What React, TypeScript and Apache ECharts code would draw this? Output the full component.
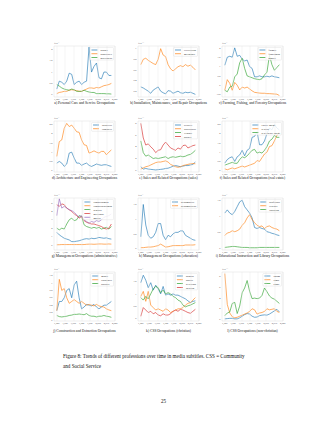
import React, { useEffect, useRef } from "react";
import * as echarts from "echarts";

const YEARS = [1950, 1953, 1956, 1959, 1962, 1965, 1968, 1971, 1974, 1977, 1980, 1983, 1986, 1989, 1992, 1995, 1998, 2001, 2004, 2007, 2010, 2013, 2016];
const X_TICKS = [1950, 1960, 1970, 1980, 1990, 2000, 2010, 2020];

// a) Personal Care and Service
const A_BARBER = [0.25, 0.6, 0.55, 0.45, 0.6, 0.95, 0.9, 0.45, 0.55, 0.6, 0.45, 0.55, 0.6, 2.1, 1.0, 1.25, 1.4, 0.75, 0.7, 1.0, 1.0, 0.85, 0.85];
const A_BABYSITTER = [0.05, 0.1, 0.12, 0.15, 0.15, 0.2, 0.22, 0.2, 0.18, 0.15, 0.15, 0.2, 0.25, 0.3, 0.3, 0.28, 0.32, 0.3, 0.35, 0.4, 0.42, 0.45, 0.5];
const A_GOVERNESS = [0.45, 0.38, 0.3, 0.25, 0.22, 0.2, 0.25, 0.22, 0.15, 0.15, 0.15, 0.2, 0.15, 0.12, 0.1, 0.1, 0.05, 0.05, 0.05, 0.05, 0.04, 0.04, 0.03];
// b) Installation, Maintenance, Repair
const B_ELECTRICIAN = [0.28, 0.26, 0.23, 0.2, 0.16, 0.22, 0.25, 0.28, 0.2, 0.17, 0.15, 0.21, 0.2, 0.16, 0.18, 0.2, 0.17, 0.16, 0.18, 0.17, 0.18, 0.16, 0.14];
const B_MECHANIC = [0.7, 0.8, 0.82, 0.78, 0.75, 0.72, 0.7, 0.8, 1.0, 0.88, 0.85, 0.7, 0.62, 0.58, 0.62, 0.66, 0.68, 0.66, 0.7, 0.67, 0.69, 0.65, 0.6];
// c) Farming, Fishing, Forestry
const C_FARMER = [1.07, 1.5, 1.55, 1.5, 2.0, 1.55, 1.6, 1.4, 1.3, 1.35, 1.0, 0.9, 0.45, 0.45, 0.5, 0.45, 0.45, 0.48, 0.45, 0.5, 0.45, 0.43, 0.4];
const C_FISHERMAN = [-0.27, 0.3, 0.1, -0.27, 0.15, 0.0, -0.25, -0.1, -0.15, -0.1, -0.2, -0.3, -0.38, -0.4, -0.42, -0.43, -0.43, -0.45, -0.45, -0.46, -0.47, -0.48, -0.55];
const C_HUNTER = [-0.27, -0.35, -0.1, -0.05, 0.45, 0.6, 1.2, 1.45, 0.9, 0.5, 0.45, 0.4, 0.35, 0.32, 0.3, 0.35, 0.55, 0.7, 1.6, 1.1, 0.8, 0.95, 1.1];
// d) Architecture and Engineering
const D_ARCHITECT = [0.41, 0.5, 0.41, 0.23, 0.36, 0.95, 1.0, 0.68, 0.41, 0.41, 0.29, 0.36, 0.41, 0.29, 0.23, 0.29, 0.36, 0.32, 0.29, 0.32, 0.32, 0.27, 0.23];
const D_ENGINEER = [0.77, 1.57, 1.66, 2.29, 2.55, 2.38, 2.46, 2.29, 2.1, 2.07, 1.66, 1.4, 1.36, 0.95, 1.0, 1.07, 1.0, 0.95, 1.04, 1.04, 0.86, 1.0, 1.12];
// e) Sales (sales)
const E_RETAILER = [0.6, 0.2, 0.3, 0.2, 0.15, 0.1, 0.05, 0.1, 0.15, 0.2, 0.3, 0.35, 0.5, 0.7, 0.8, 0.7, 0.6, 0.7, 0.8, 0.8, 0.9, 1.0, 1.4];
const E_DISTRIBUTOR = [0.2, 0.4, 0.6, 0.7, 0.9, 1.1, 1.3, 1.4, 1.4, 1.5, 1.6, 1.4, 1.0, 0.8, 0.6, 0.5, 0.6, 0.8, 0.9, 1.0, 1.1, 1.15, 1.1];
const E_VENDOR = [5.0, 3.0, 2.4, 2.6, 2.3, 2.0, 2.1, 2.0, 2.1, 2.2, 2.3, 2.0, 2.2, 2.3, 2.2, 2.3, 2.4, 2.3, 2.4, 2.6, 2.7, 3.0, 3.4];
const E_BROKER = [8.0, 5.5, 4.3, 4.5, 4.0, 3.6, 3.0, 3.4, 3.5, 4.3, 4.8, 4.3, 3.8, 3.6, 3.4, 3.8, 3.6, 4.2, 4.3, 3.8, 4.0, 4.2, 4.3];
// f) Sales (real estate)
const F_ESTATE_AGENT = [0.41, 0.6, 0.7, 0.75, 0.5, 0.75, 0.85, 1.1, 0.8, 1.1, 1.2, 1.8, 1.85, 2.1, 1.4, 1.4, 1.6, 2.0, 2.3, 2.2, 2.5, 2.3, 2.2];
const F_REALTOR = [0.1, 0.05, 0.1, 0.15, 0.1, 0.15, 0.2, 0.25, 0.2, 0.25, 0.3, 0.35, 0.4, 0.55, 0.5, 0.7, 0.9, 1.0, 1.3, 1.35, 1.6, 1.9, 2.1];
const F_REAL_ESTATE_AGENT = [0.3, 0.35, 0.4, 0.45, 0.4, 0.4, 0.6, 0.75, 0.7, 0.8, 0.95, 1.1, 1.15, 0.95, 1.0, 0.95, 1.1, 1.3, 1.6, 1.7, 1.9, 1.8, 1.8];
// g) Management (administrative)
const G_CONGRESSMAN = [1.5, 1.2, 1.0, 0.8, 0.7, 0.6, 0.4, 0.4, 0.45, 0.5, 0.6, 0.7, 0.75, 0.7, 0.8, 0.75, 0.8, 0.9, 0.85, 0.8, 0.85, 0.75, 0.7];
const G_CONGRESSWOMAN = [0.02, 0.03, 0.05, 0.05, 0.05, 0.05, 0.05, 0.05, 0.05, 0.05, 0.05, 0.05, 0.08, 0.1, 0.1, 0.08, 0.1, 0.12, 0.12, 0.1, 0.1, 0.12, 0.1];
const G_SENATOR = [2.0, 1.8, 2.0, 1.9, 2.5, 3.0, 3.2, 2.9, 3.0, 3.5, 3.4, 2.4, 2.2, 2.1, 2.0, 2.1, 2.0, 2.1, 1.9, 2.0, 2.1, 1.9, 2.2];
const G_GOVERNOR = [4.8, 4.6, 4.9, 4.8, 4.4, 4.2, 4.0, 3.7, 3.5, 3.2, 3.4, 2.9, 2.7, 2.6, 2.5, 2.5, 2.4, 2.3, 2.2, 2.0, 1.9, 2.0, 2.5];
const G_MAYOR = [3.5, 5.5, 4.4, 4.6, 4.4, 4.2, 4.1, 3.9, 3.6, 3.3, 3.5, 3.0, 2.8, 2.6, 2.8, 2.7, 2.9, 2.8, 3.0, 3.3, 3.4, 3.5, 3.7];
// h) Management (education)
const H_HEADMASTER = [0.4, 1.5, 0.8, 0.45, 0.35, 0.4, 0.55, 0.85, 0.85, 0.45, 0.3, 0.45, 0.4, 0.5, 0.55, 0.55, 0.6, 0.6, 0.45, 0.4, 0.35, 0.3, 0.28];
const H_HEADMISTRESS = [0.03, 0.03, 0.04, 0.05, 0.05, 0.06, 0.08, 0.1, 0.15, 0.1, 0.05, 0.06, 0.08, 0.1, 0.1, 0.1, 0.1, 0.1, 0.12, 0.12, 0.12, 0.12, 0.13];
// i) Educational Instruction and Library
const I_PROFESSOR = [1.1, 1.2, 1.1, 1.05, 1.15, 1.3, 1.45, 1.5, 1.3, 1.2, 1.1, 0.95, 0.65, 0.62, 0.65, 0.62, 0.6, 0.52, 0.5, 0.47, 0.45, 0.42, 0.4];
const I_TEACHER = [0.4, 0.48, 0.5, 0.55, 0.52, 0.55, 0.6, 0.72, 0.8, 0.95, 1.05, 0.9, 0.8, 0.72, 0.68, 0.7, 0.62, 0.68, 0.7, 0.65, 0.62, 0.6, 0.55];
const I_LIBRARIAN = [0.03, 0.04, 0.05, 0.06, 0.06, 0.05, 0.04, 0.03, 0.03, 0.03, 0.02, 0.02, 0.02, 0.02, 0.03, 0.03, 0.03, 0.03, 0.03, 0.03, 0.03, 0.03, 0.03];
// j) Construction and Extraction
const J_MINER = [0.25, 0.5, 0.5, 0.6, 0.8, 0.85, 0.6, 0.95, 1.05, 0.6, 0.3, 0.35, 0.42, 0.4, 0.38, 0.42, 0.35, 0.3, 0.35, 0.4, 0.4, 0.45, 0.5];
const J_CARPENTER = [0.25, 1.1, 0.8, 0.85, 0.6, 0.45, 0.5, 0.55, 0.5, 0.45, 0.5, 0.45, 0.4, 0.42, 0.4, 0.38, 0.42, 0.38, 0.36, 0.35, 0.3, 0.27, 0.25];
const J_BUILDER = [0.12, 0.09, 0.08, 0.09, 0.1, 0.12, 0.13, 0.15, 0.15, 0.16, 0.15, 0.14, 0.17, 0.12, 0.1, 0.1, 0.08, 0.1, 0.1, 0.12, 0.1, 0.09, 0.07];
// k) CSS (christian)
const K_BISHOP = [1.45, 1.75, 1.55, 1.25, 1.45, 1.15, 1.35, 1.2, 1.0, 1.3, 0.95, 1.0, 0.95, 1.0, 0.95, 0.95, 0.9, 0.85, 0.8, 0.72, 0.65, 0.7, 0.72];
const K_PASTOR = [0.9, 1.1, 0.7, 1.1, 0.55, 0.45, 0.35, 0.4, 0.35, 0.3, 0.4, 0.35, 0.25, 0.3, 0.35, 0.4, 0.4, 0.45, 0.55, 0.62, 0.65, 0.75, 0.85];
const K_REVEREND = [0.85, 0.75, 0.9, 0.8, 1.0, 1.2, 1.3, 1.25, 1.05, 1.15, 1.0, 1.05, 1.0, 0.9, 0.85, 0.75, 0.7, 0.55, 0.48, 0.52, 0.55, 0.6, 0.65];
const K_DEACON = [0.1, 0.45, 0.35, 0.25, 0.3, 0.2, 0.25, 0.15, 0.12, 0.2, 0.15, 0.15, 0.2, 0.3, 0.35, 0.3, 0.38, 0.35, 0.3, 0.25, 0.22, 0.3, 0.38];
// l) CSS (non-christian)
const L_IMAM = [0.1, 0.15, 0.2, 0.2, 0.1, 0.1, 0.3, 0.6, 0.9, 1.1, 1.0, 0.6, 0.4, 0.45, 0.7, 0.8, 0.85, 0.8, 1.0, 1.3, 1.6, 1.9, 1.4];
const L_LAMA = [8.6, 2.8, 1.2, 0.5, 0.3, 0.4, 0.6, 0.8, 1.0, 1.2, 1.5, 2.0, 1.8, 1.0, 1.2, 1.3, 1.5, 2.0, 1.8, 1.9, 2.0, 1.5, 1.3];
const L_RABBI = [0.7, 1.2, 1.4, 3.0, 3.2, 1.1, 2.5, 5.0, 5.9, 7.3, 5.3, 3.9, 4.0, 3.9, 4.0, 4.5, 5.9, 5.2, 4.4, 4.0, 3.8, 3.4, 3.0];

const CAPTIONS = [
  "a) Personal Care and Service Occupations",
  "b) Installation, Maintenance, and Repair Occupations",
  "c) Farming, Fishing, and Forestry Occupations",
  "d) Architecture and Engineering Occupations",
  "e) Sales and Related Occupations (sales)",
  "f) Sales and Related Occupations (real estate)",
  "g) Management Occupations (administrative)",
  "h) Management Occupations (education)",
  "i) Educational Instruction and Library Occupations",
  "j) Construction and Extraction Occupations",
  "k) CSS Occupations (christian)",
  "l) CSS Occupations (non-christian)",
];
const EXPONENTS = ["×10⁻⁴", "×10⁻⁵", "×10⁻⁴", "×10⁻⁴", "×10⁻⁵", "×10⁻⁵", "×10⁻⁵", "×10⁻⁴", "×10⁻⁴", "×10⁻⁴", "×10⁻⁴", "×10⁻⁵"];
const Y_TICKS = [
  [0, 0.5, 1, 1.5, 2],
  [0.2, 0.4, 0.6, 0.8, 1],
  [-0.5, 0, 0.5, 1, 1.5, 2],
  [0, 0.5, 1, 1.5, 2, 2.5],
  [0, 2, 4, 6, 8],
  [0, 0.5, 1, 1.5, 2, 2.5],
  [0, 1, 2, 3, 4, 5],
  [0, 0.5, 1, 1.5],
  [0, 0.5, 1, 1.5],
  [0, 0.2, 0.4, 0.6, 0.8, 1, 1.2],
  [0, 0.5, 1, 1.5],
  [0, 2, 4, 6, 8],
];
const Y_RANGES = [
  [-0.1, 2.15], [0.09, 1.05], [-0.63, 2.1], [-0.07, 2.68], [-0.3, 8.4], [-0.07, 2.68],
  [-0.6, 5.6], [-0.05, 1.72], [-0.05, 1.57], [-0.03, 1.3], [-0.09, 1.88], [-0.3, 8.9],
];
const SERIES_NAMES = [
  ["barber", "babysitter", "governess"],
  ["electrician", "mechanic"],
  ["farmer", "fisherman", "hunter"],
  ["architect", "engineer"],
  ["retailer", "distributor", "vendor", "broker"],
  ["estate agent", "realtor", "real estate agent"],
  ["congressman", "congresswoman", "senator", "governor", "mayor"],
  ["headmaster", "headmistress"],
  ["professor", "teacher", "librarian"],
  ["miner", "carpenter", "builder"],
  ["bishop", "pastor", "reverend", "deacon"],
  ["imam", "lama", "rabbi"],
];
const SERIES_VALUES = [
  [A_BARBER, A_BABYSITTER, A_GOVERNESS],
  [B_ELECTRICIAN, B_MECHANIC],
  [C_FARMER, C_FISHERMAN, C_HUNTER],
  [D_ARCHITECT, D_ENGINEER],
  [E_RETAILER, E_DISTRIBUTOR, E_VENDOR, E_BROKER],
  [F_ESTATE_AGENT, F_REALTOR, F_REAL_ESTATE_AGENT],
  [G_CONGRESSMAN, G_CONGRESSWOMAN, G_SENATOR, G_GOVERNOR, G_MAYOR],
  [H_HEADMASTER, H_HEADMISTRESS],
  [I_PROFESSOR, I_TEACHER, I_LIBRARIAN],
  [J_MINER, J_CARPENTER, J_BUILDER],
  [K_BISHOP, K_PASTOR, K_REVEREND, K_DEACON],
  [L_IMAM, L_LAMA, L_RABBI],
];
const COLORS = ["#1f77b4", "#ff7f0e", "#2ca02c", "#d62728", "#9467bd"];

const W = 327;
const H = 423;
const COLS = [54, 138, 222];
const PW = 61;
const ROWS = [46, 121, 198, 272];
const PH = [51, 51, 52, 49];
const CAP_Y = [103, 178, 256, 331];
const FONT = "'Liberation Serif', 'DejaVu Serif', serif";

function buildOption() {
  const grid: any[] = [];
  const xAxis: any[] = [];
  const yAxis: any[] = [];
  const series: any[] = [];
  const legend: any[] = [];
  const graphic: any[] = [];

  for (let i = 0; i < 12; i++) {
    const r = Math.floor(i / 3);
    const c = i % 3;
    const left = COLS[c];
    const top = ROWS[r];
    grid.push({
      left, top, width: PW, height: PH[r], show: true,
      borderColor: "#d4d4d4", borderWidth: 0.4, backgroundColor: "#fff",
    });
    xAxis.push({
      type: "value", gridIndex: i, min: 1946.6, max: 2020.4,
      axisLine: { show: false }, axisTick: { show: false }, splitLine: { show: false },
      axisLabel: { customValues: X_TICKS, fontSize: 2.4, color: "#333", margin: 1.6, fontFamily: FONT },
    });
    yAxis.push({
      type: "value", gridIndex: i, min: Y_RANGES[i][0], max: Y_RANGES[i][1],
      axisLine: { show: false }, axisTick: { show: false }, splitLine: { show: false },
      axisLabel: { customValues: Y_TICKS[i], fontSize: 2.4, color: "#333", margin: 1.6, fontFamily: FONT },
    });
    series.push({
      type: "line", xAxisIndex: i, yAxisIndex: i, data: [], silent: true, z: 1,
      markLine: {
        silent: true, symbol: "none", label: { show: false },
        lineStyle: { color: "#e4e4e4", width: 0.4, type: "solid" },
        data: X_TICKS.map((x) => ({ xAxis: x })),
      },
    });
    SERIES_NAMES[i].forEach((name, k) => {
      series.push({
        type: "line", name, xAxisIndex: i, yAxisIndex: i, z: 3,
        data: YEARS.map((yr, j) => [yr, SERIES_VALUES[i][k][j]]),
        showSymbol: false, symbol: "none", silent: true, clip: true,
        lineStyle: { width: 0.75, color: COLORS[k], opacity: 0.85 },
        itemStyle: { color: COLORS[k] },
      });
    });
    legend.push({
      data: SERIES_NAMES[i], orient: "vertical", selectedMode: false,
      right: W - (left + PW) + 1.5, top: top + 1.5,
      icon: "rect", itemWidth: 6, itemHeight: 0.7, itemGap: 0.8,
      padding: [1, 1.5, 1, 1.5],
      backgroundColor: "rgba(255,255,255,0.85)", borderColor: "#d0d0d0", borderWidth: 0.3, borderRadius: 0.8,
      textStyle: { fontSize: 2.9, color: "#222", fontFamily: FONT, padding: [0, 0, 0, -2] },
    });
    graphic.push({
      type: "text", left: left, top: top - 4,
      style: { text: EXPONENTS[i], fontSize: 2.4, fill: "#333", fontFamily: FONT },
    });
    graphic.push({
      type: "text", x: left + PW / 2, y: CAP_Y[r],
      style: { text: CAPTIONS[i], fontSize: 3.6, fill: "#111", fontFamily: FONT, textAlign: "center", textVerticalAlign: "middle" },
    });
  }
  graphic.push({
    type: "text", x: 63, y: 356,
    style: { text: "Figure 8: Trends of different professions over time in media subtitles. CSS = Community", fontSize: 5.1, fill: "#111", fontFamily: FONT, textVerticalAlign: "middle" },
  });
  graphic.push({
    type: "text", x: 63, y: 366,
    style: { text: "and Social Service", fontSize: 5.1, fill: "#111", fontFamily: FONT, textVerticalAlign: "middle" },
  });
  graphic.push({
    type: "text", x: 163.5, y: 401,
    style: { text: "25", fontSize: 5.1, fill: "#111", fontFamily: FONT, textAlign: "center", textVerticalAlign: "middle" },
  });

  return {
    animation: false,
    backgroundColor: "#fff",
    grid, xAxis, yAxis, series, legend, graphic,
  };
}

export default function App() {
  const ref = useRef<HTMLDivElement>(null);
  useEffect(() => {
    if (!ref.current) return;
    const chart = echarts.init(ref.current, null, { renderer: "svg" });
    chart.setOption(buildOption());
    return () => chart.dispose();
  }, []);
  return (
    <div
      ref={ref}
      style={{ position: "absolute", left: 0, top: 0, width: W, height: H, background: "#fff" }}
    />
  );
}
